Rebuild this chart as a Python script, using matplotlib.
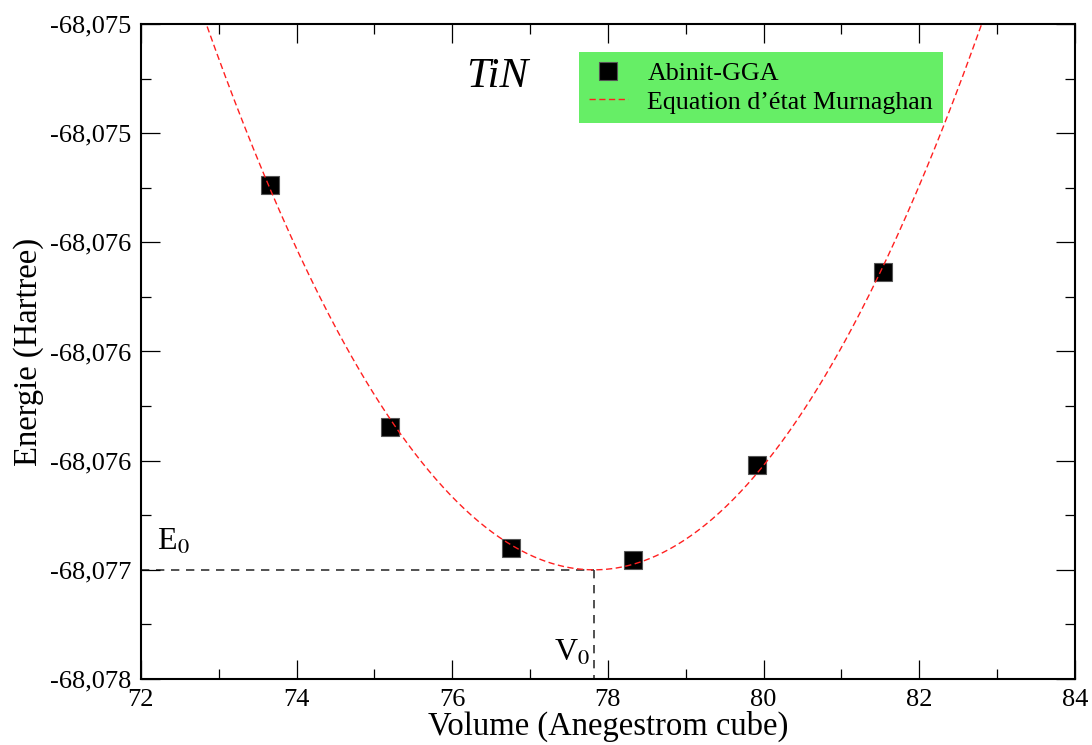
import numpy as np
import matplotlib.pyplot as plt
from matplotlib.ticker import FixedLocator, FixedFormatter, MultipleLocator

plt.rcParams['font.family'] = ['Liberation Serif', 'DejaVu Serif']
plt.rcParams['mathtext.fontset'] = 'stix'

# Abinit-GGA points
volume = [73.66, 75.20, 76.75, 78.32, 79.91, 81.53]
energy = [-68.075737, -68.076845, -68.077399, -68.077454, -68.077019, -68.076136]

# fitted equation of state parameters
E0 = -68.0775
V0 = 77.82
B0 = 0.01568  # Hartree / A^3 (curvature of the fit)

y_ticks = [-68.0750, -68.0755, -68.0760, -68.0765, -68.0770, -68.0775, -68.0780]
y_labels = ['-68,075', '-68,075', '-68,076', '-68,076', '-68,076', '-68,077', '-68,078']
x_ticks = [72, 74, 76, 78, 80, 82, 84]

fig = plt.figure(figsize=(10.92, 7.45), dpi=100)
ax = fig.add_axes([0.1291, 0.0886, 0.8553, 0.8792])

# fit curve
v = np.linspace(72, 84, 400)
e = E0 + B0 / (2 * V0) * (v - V0) ** 2
line, = ax.plot(v, e, color='#ff2020', lw=1.0, dashes=(4.5, 2.5),
                label="Equation d\u2019\u00e9tat Murnaghan", zorder=3)
pts, = ax.plot(volume, energy, 's', ms=13, mfc='black', mec='#555555', mew=0.8,
               ls='none', label='Abinit-GGA', zorder=2)

# E0 / V0 guides
ax.plot([72, V0], [E0, E0], color='#333333', lw=1.2, dashes=(5, 4), zorder=1)
ax.plot([V0, V0], [E0, -68.0780], color='#333333', lw=1.2, dashes=(5, 4), zorder=1)
ax.text(72.2, E0 + 0.00006, r'E$_0$', fontsize=23, ha='left', va='bottom')
ax.text(V0 - 0.05, -68.07795, r'V$_0$', fontsize=23, ha='right', va='bottom')

ax.text(76.58, -68.07524, 'TiN', fontsize=31, style='italic', ha='center', va='center')

ax.set_xlim(72, 84)
ax.set_ylim(-68.0780, -68.0750)
ax.xaxis.set_major_locator(FixedLocator(x_ticks))
ax.xaxis.set_minor_locator(MultipleLocator(1))
ax.yaxis.set_major_locator(FixedLocator(y_ticks))
ax.yaxis.set_major_formatter(FixedFormatter(y_labels))
ax.yaxis.set_minor_locator(MultipleLocator(0.00025))

ax.tick_params(which='both', direction='in', top=True, right=True, labelsize=19, width=0.9)
ax.tick_params(which='major', length=14, pad=7)
ax.tick_params(which='minor', length=7.5)
for s in ax.spines.values():
    s.set_linewidth(1.5)

ax.set_xlabel('Volume (Anegestrom cube)', fontsize=23.5, labelpad=0)
ax.set_ylabel('Energie (Hartree)', fontsize=23.5, labelpad=4)

leg = ax.legend(handles=[pts, line], loc='upper left', bbox_to_anchor=(0.469, 0.957),
                borderaxespad=0, fontsize=18.7, frameon=True, fancybox=False,
                facecolor='#66ee66', edgecolor='none', framealpha=1,
                handlelength=1.5, handletextpad=0.75, labelspacing=0.2,
                borderpad=0.38, markerscale=0.95)

fig.savefig('out.png', dpi=100)
